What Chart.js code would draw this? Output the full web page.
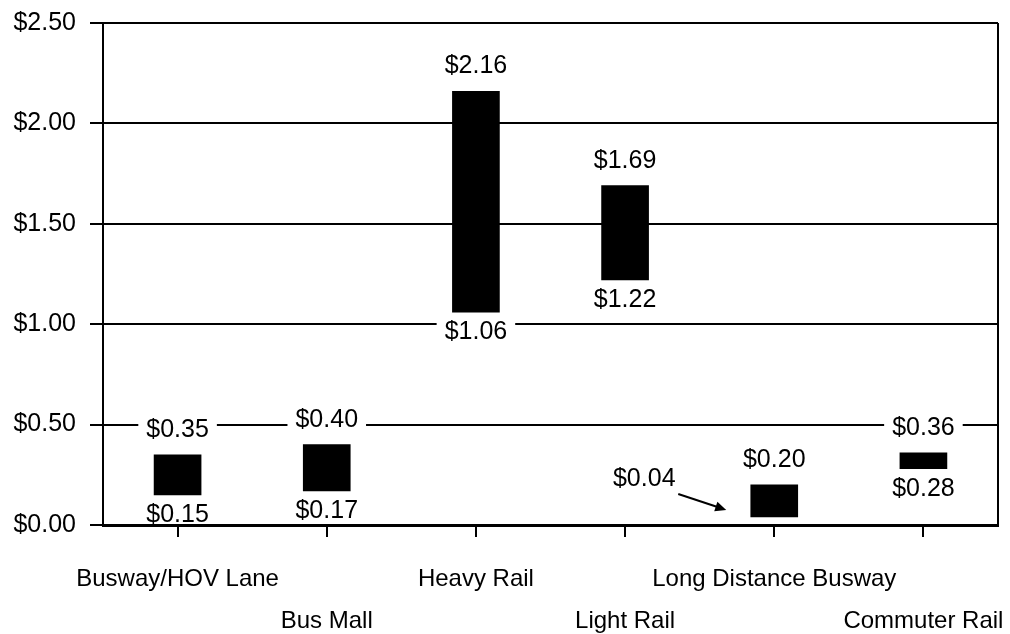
<!DOCTYPE html>
<html>
<head>
<meta charset="utf-8">
<script src="https://cdn.jsdelivr.net/npm/chart.js@4/dist/chart.umd.min.js"></script>
<style>
  html, body { margin: 0; padding: 0; background: #fff; }
  #wrap { width: 1010px; height: 634px; }
</style>
</head>
<body>
<div id="wrap"><canvas id="chartCosto" width="1010" height="634"></canvas></div>
<script>
// Costo por pasajero, rango bajo/alto por modo
const modos = ['Busway/HOV Lane', 'Bus Mall', 'Heavy Rail', 'Light Rail', 'Long Distance Busway', 'Commuter Rail'];
const costoBajo = [0.15, 0.17, 1.06, 1.22, 0.04, 0.28];
const costoAlto = [0.35, 0.40, 2.16, 1.69, 0.20, 0.36];
const ticksY = [0, 0.5, 1.0, 1.5, 2.0, 2.5];

const FUENTE = '"Liberation Sans", Arial, Helvetica, sans-serif';
const dinero = v => '$' + Number(v).toFixed(2);

// etiquetas en dos filas alternadas
const etiquetasX = modos.map((m, i) => i % 2 === 0 ? [m] : ['', m]);

// etiquetas de valor con fondo blanco (tapan la grilla)
const etiquetasValor = {
    id: 'etiquetasValor',
    afterDatasetsDraw(chart) {
        const ctx = chart.ctx;
        const area = chart.chartArea;
        const meta = chart.getDatasetMeta(0);
        const y = chart.scales.y;
        ctx.save();
        ctx.font = '25px ' + FUENTE;
        ctx.textAlign = 'center';
        ctx.textBaseline = 'middle';

        const caja = (txt, cx, cy) => {
            const w = ctx.measureText(txt).width + 16;
            ctx.save();
            ctx.beginPath();
            ctx.rect(area.left + 2, area.top, area.right - area.left - 4, area.bottom - area.top - 2);
            ctx.clip();
            ctx.fillStyle = '#fff';
            ctx.fillRect(cx - w / 2, cy - 12, w, 24);
            ctx.restore();
            ctx.fillStyle = '#000';
            ctx.fillText(txt, cx, cy);
        };

        meta.data.forEach((bar, i) => {
            const x = bar.x;
            const yAlto = y.getPixelForValue(costoAlto[i]);
            const yBajo = y.getPixelForValue(costoBajo[i]);
            caja(dinero(costoAlto[i]), x, yAlto - 25);
            if (costoBajo[i] < 0.1) {
                // sin espacio bajo la barra: etiqueta al costado con flecha
                caja(dinero(costoBajo[i]), x - 130, yBajo - 38);
                const x0 = x - 96, y0 = yBajo - 23, x1 = x - 48, y1 = yBajo - 7;
                const ang = Math.atan2(y1 - y0, x1 - x0);
                ctx.strokeStyle = '#000';
                ctx.lineWidth = 2;
                ctx.beginPath();
                ctx.moveTo(x0, y0);
                ctx.lineTo(x1 - 6 * Math.cos(ang), y1 - 6 * Math.sin(ang));
                ctx.stroke();
                ctx.fillStyle = '#000';
                ctx.beginPath();
                ctx.moveTo(x1, y1);
                ctx.lineTo(x1 - 11 * Math.cos(ang) + 5 * Math.sin(ang), y1 - 11 * Math.sin(ang) - 5 * Math.cos(ang));
                ctx.lineTo(x1 - 11 * Math.cos(ang) - 5 * Math.sin(ang), y1 - 11 * Math.sin(ang) + 5 * Math.cos(ang));
                ctx.closePath();
                ctx.fill();
            } else {
                caja(dinero(costoBajo[i]), x, yBajo + 20);
            }
        });

        // borde derecho del área
        ctx.strokeStyle = '#000';
        ctx.lineWidth = 2;
        ctx.beginPath();
        ctx.moveTo(area.right, area.top);
        ctx.lineTo(area.right, area.bottom);
        ctx.stroke();
        ctx.restore();
    }
};

new Chart(document.getElementById('chartCosto'), {
    type: 'bar',
    data: {
        labels: etiquetasX,
        datasets: [{
            data: modos.map((m, i) => [costoBajo[i], costoAlto[i]]),
            backgroundColor: '#000',
            borderWidth: 0,
            barThickness: 47
        }]
    },
    options: {
        responsive: false,
        animation: false,
        layout: { padding: { top: 23, right: 12, left: 0, bottom: 0 } },
        plugins: {
            legend: { display: false },
            tooltip: { enabled: false }
        },
        scales: {
            x: {
                offset: true,
                grid: { display: true, drawOnChartArea: false, offset: false, color: '#000', lineWidth: 2, tickLength: 12 },
                border: { color: '#000', width: 3 },
                ticks: {
                    color: '#000',
                    font: { family: FUENTE, size: 24, lineHeight: 1.75 },
                    maxRotation: 0,
                    autoSkip: false,
                    padding: 21
                },
                afterFit(s) {
                    s.height = 109;
                    s.paddingLeft = 0;
                    s.paddingRight = 0;
                }
            },
            y: {
                min: 0,
                max: 2.5,
                afterBuildTicks(s) { s.ticks = ticksY.map(v => ({ value: v })); },
                grid: { color: '#000', lineWidth: 2, tickLength: 13 },
                border: { color: '#000', width: 2 },
                ticks: {
                    color: '#000',
                    font: { family: FUENTE, size: 25 },
                    padding: 14,
                    callback: v => dinero(v)
                },
                afterFit(s) {
                    s.width = 103;
                    s.paddingTop = 0;
                    s.paddingBottom = 0;
                }
            }
        }
    },
    plugins: [etiquetasValor]
});
</script>
</body>
</html>
